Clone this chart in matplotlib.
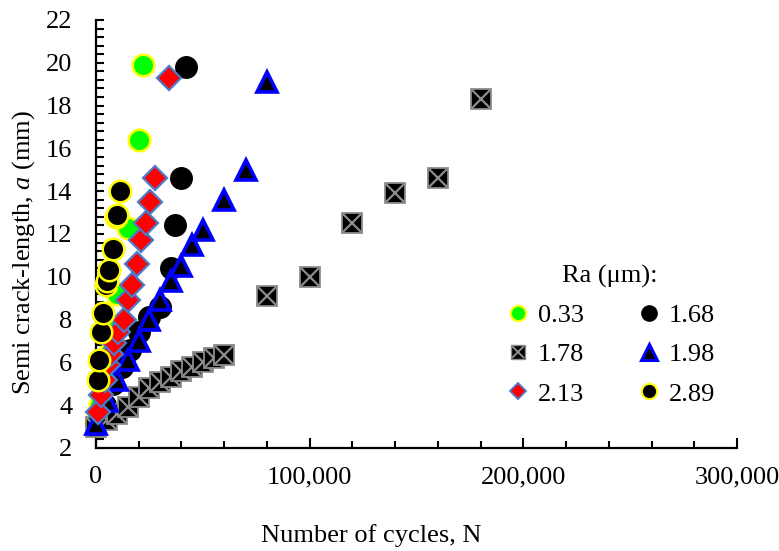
import matplotlib
matplotlib.use("Agg")
import matplotlib.pyplot as plt
from matplotlib.ticker import MultipleLocator, FuncFormatter
from matplotlib.lines import Line2D

plt.rcParams['font.family'] = ['Liberation Serif', 'DejaVu Serif']
plt.rcParams['mathtext.fontset'] = 'custom'
plt.rcParams['mathtext.rm'] = 'Liberation Serif'
plt.rcParams['mathtext.it'] = 'Liberation Serif:italic'

# ---- data ----
n_033 = [0, 2000, 4000, 6000, 8000, 10000, 15000, 20000, 22000]
a_033 = [3.2, 4.0, 5.2, 6.4, 7.6, 9.2, 12.3, 16.4, 19.9]

n_168 = [0, 4000, 8000, 12000, 16000, 20000, 25000, 30000, 35000, 37000, 40000, 42000]
a_168 = [3.1, 4.0, 5.0, 5.8, 6.6, 7.4, 8.1, 8.6, 10.4, 12.4, 14.6, 19.8]

n_178 = [0, 5000, 10000, 15000, 20000, 25000, 30000, 35000, 40000, 45000, 50000, 55000,
         60000, 80000, 100000, 120000, 140000, 160000, 180000]
a_178 = [3.0, 3.3, 3.6, 3.9, 4.4, 4.8, 5.1, 5.3, 5.6, 5.8, 6.0, 6.2,
         6.35, 9.1, 10.0, 12.5, 13.9, 14.6, 18.3]

n_198 = [0, 5000, 10000, 15000, 20000, 25000, 30000, 35000, 40000, 45000, 50000, 60000, 70000, 80000]
a_198 = [3.1, 4.2, 5.2, 6.1, 7.0, 8.0, 8.9, 9.8, 10.5, 11.5, 12.2, 13.6, 15.0, 19.1]

n_213 = [1000, 2500, 4000, 5500, 7000, 8500, 10500, 13000, 15000, 17000, 19000, 21000,
         23500, 25500, 27500, 34000]
a_213 = [3.7, 4.5, 5.2, 5.9, 6.4, 6.9, 7.4, 8.0, 8.9, 9.6, 10.6, 11.7, 12.5, 13.5, 14.6, 19.3]

n_289 = [800, 1600, 2400, 3200, 4500, 5000, 6300, 7900, 9400, 10000, 11000]
a_289 = [5.2, 6.1, 7.4, 8.3, 9.6, 9.8, 10.3, 11.3, 12.8, 12.9, 14.0]

labels = ['0.33', '1.68', '1.78', '1.98', '2.13', '2.89']

x_ticks = [0, 100000, 200000, 300000]

# ---- figure ----
fig = plt.figure(figsize=(7.79, 5.51), dpi=100)
ax = fig.add_axes([96/779, 1 - 448/551, (737-96)/779, (448-20)/551])

FS = 19
ms = 15.5
ax.plot(n_033, a_033, 'o', ms=ms, mfc='#00FF00', mec='#FFFF00', mew=1.8, clip_on=False, zorder=3)
ax.plot(n_168, a_168, 'o', ms=ms, mfc='black', mec='black', mew=1, clip_on=False, zorder=3)
for xv, yv in zip(n_178, a_178):
    ax.plot([xv], [yv], 's', ms=15, mfc='black', mec='#8C8C8C', mew=1.3, clip_on=False, zorder=3)
    ax.plot([xv], [yv], 'x', ms=13, mec='#8C8C8C', mew=1.6, clip_on=False, zorder=3)
ax.plot(n_198, a_198, '^', ms=15, mfc='black', mec='#0000FF', mew=2.6, clip_on=False, zorder=3)
ax.plot(n_213, a_213, 'D', ms=12.5, mfc='#FF0000', mec='#4A7BC8', mew=1.6, clip_on=False, zorder=3)
ax.plot(n_289, a_289, 'o', ms=ms, mfc='black', mec='#FFFF00', mew=1.8, clip_on=False, zorder=3)

ax.set_xlim(0, 300000)
ax.set_ylim(2, 22)
for s in ['top', 'right']:
    ax.spines[s].set_visible(False)
for s in ['left', 'bottom']:
    ax.spines[s].set_linewidth(1.6)

ax.set_xticks(x_ticks)
ax.xaxis.set_minor_locator(MultipleLocator(20000))
ax.yaxis.set_major_locator(MultipleLocator(2))
ax.yaxis.set_minor_locator(MultipleLocator(0.4))
ax.xaxis.set_major_formatter(FuncFormatter(lambda v, p: f"{int(v):,}"))
ax.tick_params(axis='x', which='major', direction='in', length=7, width=1.5, pad=13, labelsize=FS)
ax.tick_params(axis='x', which='minor', direction='in', length=5, width=1.5)
ax.tick_params(axis='y', which='major', direction='in', length=5.5, width=1.5, pad=17, labelsize=FS)
ax.tick_params(axis='y', which='minor', direction='in', length=5.5, width=1.5)

xl = ax.set_xlabel('Number of cycles, N', fontsize=FS, va='center')
ax.xaxis.set_label_coords((371-96)/641, (448-536)/428)
yl = ax.set_ylabel('Semi crack-length, $\\it{a}$ (mm)', fontsize=FS, va='center')
ax.yaxis.set_label_coords((24-96)/641, (448-252)/428)

# legend
def h(marker, mfc, mec, mew, ms_):
    return Line2D([], [], ls='none', marker=marker, mfc=mfc, mec=mec, mew=mew, ms=ms_)

handles = {
    '0.33': h('o', '#00FF00', '#FFFF00', 1.5, 11),
    '1.68': h('o', 'black', 'black', 1, 11),
    '1.78': (h('s', 'black', '#8C8C8C', 1.0, 10), h('x', 'none', '#8C8C8C', 1.4, 8.5)),
    '1.98': h('^', 'black', '#0000FF', 2.2, 11),
    '2.13': h('D', '#FF0000', '#4A7BC8', 1.3, 8.5),
    '2.89': h('o', 'black', '#FFFF00', 1.5, 11),
}
order = ['0.33', '1.78', '2.13', '1.68', '1.98', '2.89']
leg = ax.legend([handles[k] for k in order], order, ncol=2, title='Ra (μm):',
                loc='center', bbox_to_anchor=((610-96)/641, (448-335)/428),
                frameon=False, fontsize=FS, title_fontsize=FS,
                handletextpad=0.25, columnspacing=1.95, labelspacing=0.6,
                handlelength=1.0)

fig.savefig('out.png', dpi=100)
